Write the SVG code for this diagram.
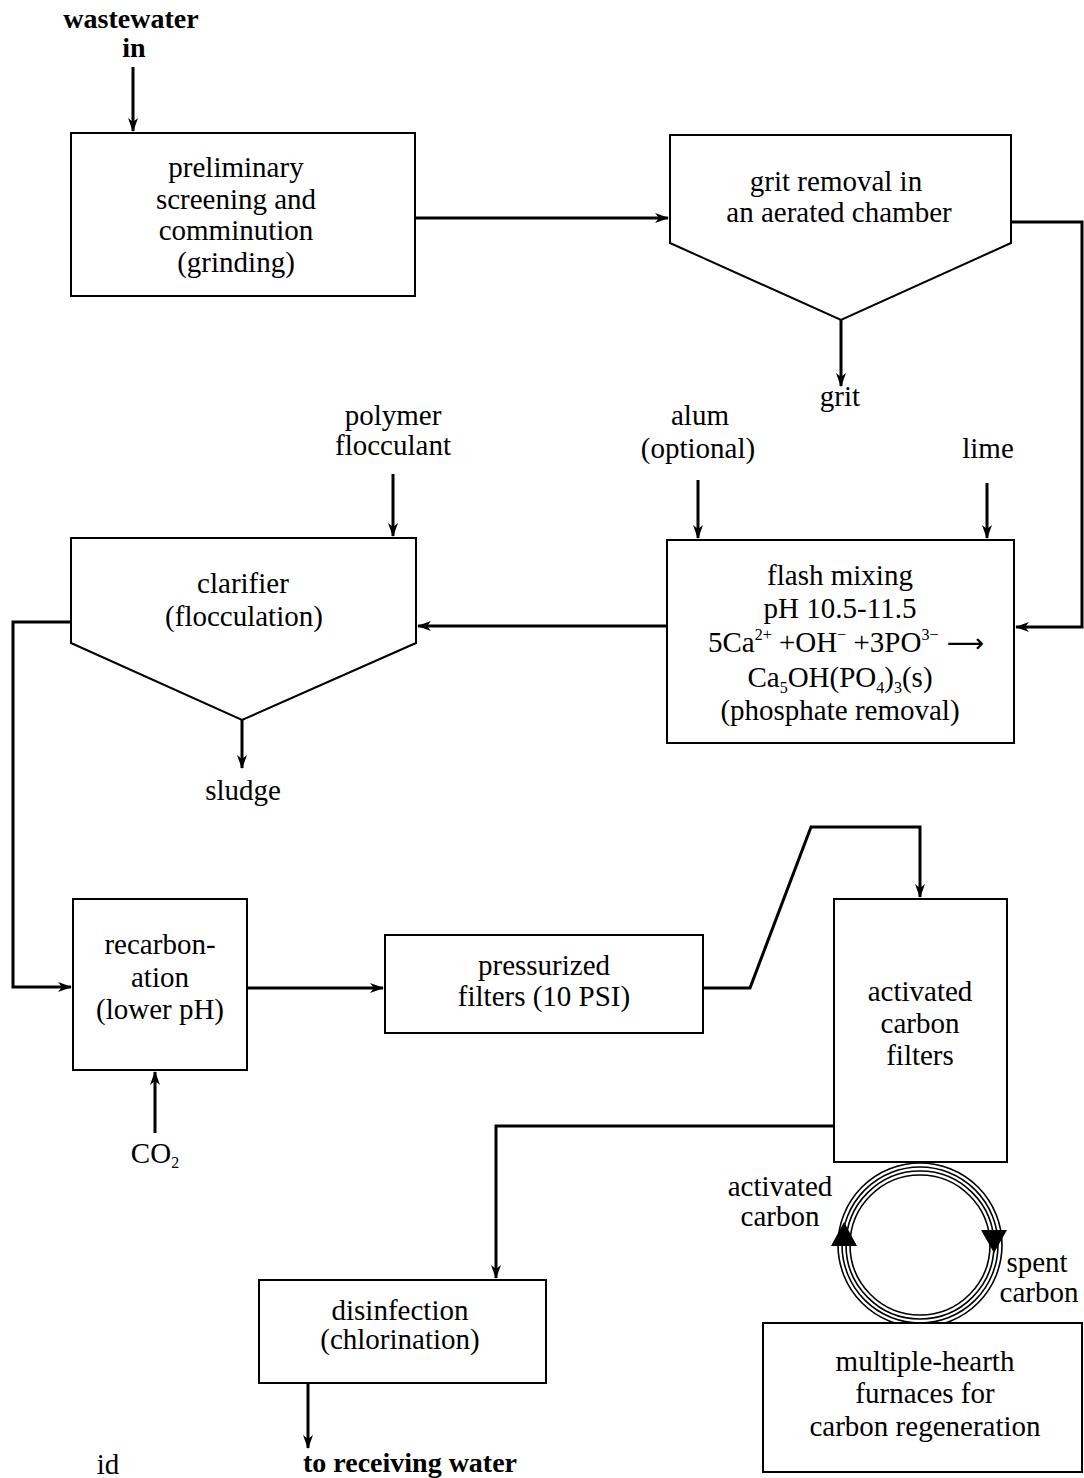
<svg xmlns="http://www.w3.org/2000/svg" width="1084" height="1478" viewBox="0 0 1084 1478">
<style>
.box{fill:#fff;stroke:#000;stroke-width:2}
.t{font-family:"Liberation Serif","Times New Roman",serif;font-size:29px;fill:#000;text-anchor:middle}
.b{font-family:"Liberation Serif","Times New Roman",serif;font-size:28px;font-weight:bold;fill:#000;text-anchor:middle}
.c{fill:none;stroke:#000;stroke-width:3;stroke-linejoin:miter}
.ring{fill:none;stroke:#000;stroke-width:1.6}
</style>
<defs>
<marker id="ah" markerUnits="userSpaceOnUse" viewBox="0 0 14 10" refX="13" refY="5" markerWidth="14" markerHeight="10" orient="auto">
<path d="M0,0 L14,5 L0,10 L4,5 Z" fill="#000"/>
</marker>
</defs>
<rect width="1084" height="1478" fill="#fff"/>

<g id="connectors">
<path class="c" d="M133,67 V131" marker-end="url(#ah)"/>
<path class="c" d="M415,218 H668" marker-end="url(#ah)"/>
<path class="c" d="M841,320 V386" marker-end="url(#ah)"/>
<path class="c" d="M1011,222 H1082 V627 H1016" marker-end="url(#ah)"/>
<path class="c" d="M698,480 V538" marker-end="url(#ah)"/>
<path class="c" d="M987,483 V538" marker-end="url(#ah)"/>
<path class="c" d="M393,474 V536" marker-end="url(#ah)"/>
<path class="c" d="M667,626 H418" marker-end="url(#ah)"/>
<path class="c" d="M242,720 V768" marker-end="url(#ah)"/>
<path class="c" d="M71,622 H13 V987 H71" marker-end="url(#ah)"/>
<path class="c" d="M155,1133 V1072" marker-end="url(#ah)"/>
<path class="c" d="M247,988 H383" marker-end="url(#ah)"/>
<path class="c" d="M703,988 H750 L811,827 H920 V897" marker-end="url(#ah)"/>
<path class="c" d="M834,1126 H496 V1278" marker-end="url(#ah)"/>
<path class="c" d="M308,1383 V1448" marker-end="url(#ah)"/>
</g>

<g id="wastewater-in">
<text class="b" x="131" y="28">wastewater</text>
<text class="b" x="134" y="57">in</text>
</g>

<g id="preliminary">
<rect class="box" x="71" y="133" width="344" height="163"/>
<text class="t" x="236" y="177">preliminary</text>
<text class="t" x="236" y="209">screening and</text>
<text class="t" x="236" y="240">comminution</text>
<text class="t" x="236" y="272">(grinding)</text>
</g>

<g id="grit-removal">
<polygon class="box" points="670,135 1011,135 1011,243 841,320 670,243"/>
<text class="t" x="836" y="191">grit removal in</text>
<text class="t" x="839" y="222">an aerated chamber</text>
</g>
<text id="grit" class="t" x="840" y="406">grit</text>

<g id="polymer-flocculant">
<text class="t" x="393" y="425">polymer</text>
<text class="t" x="393" y="455">flocculant</text>
</g>
<g id="alum">
<text class="t" x="700" y="425">alum</text>
<text class="t" x="698" y="458">(optional)</text>
</g>
<text id="lime" class="t" x="988" y="458">lime</text>

<g id="flash-mixing">
<rect class="box" x="667" y="540" width="347" height="203"/>
<text class="t" x="840" y="585">flash mixing</text>
<text class="t" x="840" y="618">pH 10.5-11.5</text>
<text class="t" x="846" y="652">5Ca<tspan font-size="16" dy="-12">2+</tspan><tspan dy="12"> +OH</tspan><tspan font-size="16" dy="-12">−</tspan><tspan dy="12"> +3PO</tspan><tspan font-size="16" dy="-12">3−</tspan><tspan dy="12" font-family="DejaVu Sans, sans-serif" font-size="26"> ⟶</tspan></text>
<text class="t" x="840" y="687">Ca<tspan font-size="16" dy="6">5</tspan><tspan dy="-6">OH(PO</tspan><tspan font-size="16" dy="6">4</tspan><tspan dy="-6">)</tspan><tspan font-size="16" dy="6">3</tspan><tspan dy="-6">(s)</tspan></text>
<text class="t" x="840" y="720">(phosphate removal)</text>
</g>

<g id="clarifier">
<polygon class="box" points="71,538 416,538 416,643 242,720 71,643"/>
<text class="t" x="243" y="593">clarifier</text>
<text class="t" x="244" y="626">(flocculation)</text>
</g>
<text id="sludge" class="t" x="243" y="800">sludge</text>

<g id="recarbonation">
<rect class="box" x="73" y="899" width="174" height="171"/>
<text class="t" x="160" y="954">recarbon-</text>
<text class="t" x="160" y="987">ation</text>
<text class="t" x="160" y="1019">(lower pH)</text>
</g>
<text id="co2" class="t" x="155" y="1163">CO<tspan font-size="16" dy="5">2</tspan></text>

<g id="pressurized-filters">
<rect class="box" x="385" y="935" width="318" height="98"/>
<text class="t" x="544" y="975">pressurized</text>
<text class="t" x="544" y="1006">filters (10 PSI)</text>
</g>

<g id="activated-carbon-filters">
<rect class="box" x="834" y="899" width="173" height="263"/>
<text class="t" x="920" y="1001">activated</text>
<text class="t" x="920" y="1033">carbon</text>
<text class="t" x="920" y="1065">filters</text>
</g>

<g id="carbon-loop">
<circle class="ring" cx="920" cy="1245" r="82"/>
<circle class="ring" cx="920" cy="1245" r="78"/>
<circle class="ring" cx="920" cy="1245" r="74"/>
<circle class="ring" cx="920" cy="1245" r="70"/>
<polygon points="844,1222 857,1246 831,1246" fill="#000"/>
<polygon points="994,1253 1007,1230 981,1230" fill="#000"/>
<text class="t" x="780" y="1196">activated</text>
<text class="t" x="780" y="1226">carbon</text>
<text class="t" x="1037" y="1272">spent</text>
<text class="t" x="1039" y="1302">carbon</text>
</g>

<g id="furnaces">
<rect class="box" x="763" y="1323" width="319" height="149"/>
<text class="t" x="925" y="1371">multiple-hearth</text>
<text class="t" x="925" y="1403">furnaces for</text>
<text class="t" x="925" y="1436">carbon regeneration</text>
</g>

<g id="disinfection">
<rect class="box" x="259" y="1280" width="287" height="103"/>
<text class="t" x="400" y="1320">disinfection</text>
<text class="t" x="400" y="1349">(chlorination)</text>
</g>
<text id="receiving-water" class="b" x="410" y="1472">to receiving water</text>
<text id="fragment" class="t" x="108" y="1474">id</text>
</svg>
